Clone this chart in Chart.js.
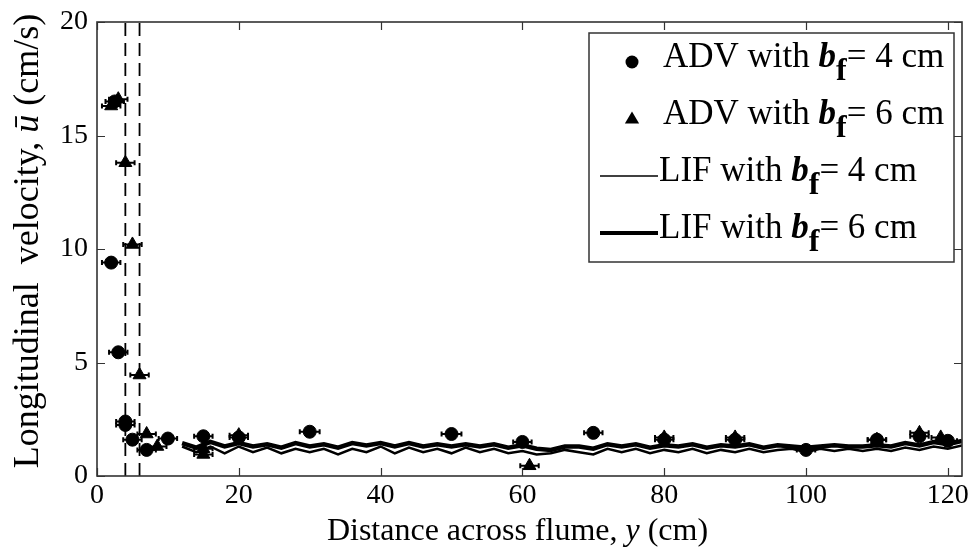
<!DOCTYPE html>
<html>
<head>
<meta charset="utf-8">
<script src="https://cdn.jsdelivr.net/npm/chart.js@4.4.1/dist/chart.umd.min.js"></script>
<style>
  html, body { margin: 0; padding: 0; background: #fff; }
</style>
</head>
<body>
<canvas id="chart" width="979" height="557"></canvas>
<script>
// ADV point measurements (y in cm, u in cm/s, horizontal error half-width in cm)
const advY4 = [2.5, 2, 3, 4, 4, 5, 7, 10, 15, 20, 30, 50, 60, 70, 80, 90, 100, 110, 116, 120];
const advU4 = [16.5, 9.4, 5.45, 2.4, 2.25, 1.6, 1.15, 1.65, 1.75, 1.7, 1.95, 1.85, 1.5, 1.9, 1.6, 1.6, 1.15, 1.6, 1.75, 1.55];
const advErr4 = [1.3, 1.3, 1.3, 1.3, 1.3, 1.3, 1.3, 1.3, 1.3, 1.3, 1.4, 1.4, 1.3, 1.3, 1.3, 1.3, 1.3, 1.3, 1.3, 1.3];

const advY6 = [2, 3, 4, 5, 6, 7, 8.5, 15, 15, 20, 61, 80, 90, 110, 116, 119];
const advU6 = [16.3, 16.6, 13.8, 10.2, 4.45, 1.85, 1.3, 1.2, 0.95, 1.8, 0.45, 1.7, 1.7, 1.6, 1.9, 1.7];
const advErr6 = [1.3, 1.3, 1.3, 1.3, 1.3, 1.3, 1.3, 1.3, 1.3, 1.3, 1.3, 1.3, 1.3, 1.3, 1.3, 1.3];

// LIF transects
const lifY = [12, 14, 16, 18, 20, 22, 24, 26, 28, 30, 32, 34, 36, 38, 40, 42, 44, 46, 48, 50,
  52, 54, 56, 58, 60, 62, 64, 66, 68, 70, 72, 74, 76, 78, 80, 82, 84, 86, 88, 90,
  92, 94, 96, 98, 100, 102, 104, 106, 108, 110, 112, 114, 116, 118, 120, 122];
const lifU4 = [1.3, 1.05, 1.3, 1.0, 1.3, 1.05, 1.25, 1.0, 1.2, 1.05, 1.2, 0.95, 1.2, 1.05, 1.3, 1.0, 1.25, 1.05, 1.2, 1.0,
  1.25, 1.05, 1.2, 1.0, 1.1, 0.95, 1.0, 1.15, 1.05, 0.95, 1.2, 1.05, 1.2, 1.0, 1.15, 1.05, 1.2, 1.0, 1.15, 1.05,
  1.2, 1.05, 1.15, 1.2, 1.05, 1.2, 1.1, 1.2, 1.1, 1.2, 1.1, 1.25, 1.15, 1.3, 1.2, 1.35];
const lifU6 = [1.45, 1.25, 1.5, 1.3, 1.45, 1.3, 1.4, 1.25, 1.45, 1.3, 1.4, 1.25, 1.45, 1.35, 1.45, 1.3, 1.45, 1.3, 1.4, 1.3,
  1.4, 1.3, 1.4, 1.25, 1.35, 1.2, 1.15, 1.3, 1.3, 1.2, 1.4, 1.3, 1.4, 1.25, 1.35, 1.3, 1.4, 1.25, 1.35, 1.3,
  1.4, 1.25, 1.35, 1.3, 1.25, 1.3, 1.35, 1.3, 1.3, 1.35, 1.3, 1.45, 1.35, 1.5, 1.4, 1.55];

// fringe widths b_f marked by dashed lines
const fringeEdges = [4, 6];

const xTicks = [0, 20, 40, 60, 80, 100, 120];
const yTicks = [0, 5, 10, 15, 20];
const xMax = 122;
const yMax = 20;

const SERIF = '"Liberation Serif", "Times New Roman", serif';

function pts(xs, ys) {
  return xs.map((v, i) => ({ x: v, y: ys[i] }));
}

function drawRuns(ctx, runs, x, y, align) {
  let w = 0;
  runs.forEach(r => { ctx.font = r.f; r.w = ctx.measureText(r.t).width; w += r.w; });
  let cx = align === 'center' ? x - w / 2 : x;
  runs.forEach(r => {
    ctx.font = r.f;
    ctx.fillText(r.t, cx, y + (r.dy || 0));
    cx += r.w;
  });
}

function bfRuns(prefix, width) {
  return [
    { t: prefix + ' with ', f: '35px ' + SERIF },
    { t: 'b', f: 'italic bold 35px ' + SERIF },
    { t: 'f', f: 'bold 32px ' + SERIF, dy: 14 },
    { t: '= ' + width + ' cm', f: '35px ' + SERIF }
  ];
}

// horizontal error bars behind the markers
const errorBars = {
  id: 'errorBars',
  beforeDatasetsDraw(chart) {
    const { ctx, scales: { x, y } } = chart;
    ctx.save();
    ctx.strokeStyle = '#000';
    ctx.lineWidth = 2;
    [[advY4, advU4, advErr4], [advY6, advU6, advErr6]].forEach(([xs, us, es]) => {
      xs.forEach((v, i) => {
        const py = y.getPixelForValue(us[i]);
        const x0 = x.getPixelForValue(v - es[i]);
        const x1 = x.getPixelForValue(v + es[i]);
        ctx.beginPath();
        ctx.moveTo(x0, py); ctx.lineTo(x1, py);
        ctx.moveTo(x0, py - 2.5); ctx.lineTo(x0, py + 2.5);
        ctx.moveTo(x1, py - 2.5); ctx.lineTo(x1, py + 2.5);
        ctx.stroke();
      });
    });
    ctx.restore();
  }
};

// axes box, inward ticks, labels, titles and legend
const frameAndText = {
  id: 'frameAndText',
  afterDraw(chart) {
    const { ctx, chartArea: a, scales: { x, y } } = chart;
    ctx.save();
    ctx.strokeStyle = '#333';
    ctx.lineWidth = 1.6;
    ctx.strokeRect(a.left, a.top, a.right - a.left, a.bottom - a.top);

    const tl = 8;
    ctx.beginPath();
    xTicks.forEach(v => {
      const px = Math.round(x.getPixelForValue(v)) + 0.5;
      ctx.moveTo(px, a.bottom); ctx.lineTo(px, a.bottom - tl);
      ctx.moveTo(px, a.top); ctx.lineTo(px, a.top + tl);
    });
    yTicks.forEach(v => {
      const py = Math.round(y.getPixelForValue(v)) + 0.5;
      ctx.moveTo(a.left, py); ctx.lineTo(a.left + tl, py);
      ctx.moveTo(a.right, py); ctx.lineTo(a.right - tl, py);
    });
    ctx.lineWidth = 1.2;
    ctx.stroke();

    ctx.fillStyle = '#000';
    ctx.font = '28px ' + SERIF;
    ctx.textAlign = 'center';
    ctx.textBaseline = 'top';
    xTicks.forEach(v => ctx.fillText(String(v), x.getPixelForValue(v), a.bottom + 6));
    ctx.textAlign = 'right';
    ctx.textBaseline = 'middle';
    yTicks.forEach(v => ctx.fillText(String(v), a.left - 9, y.getPixelForValue(v)));

    // axis titles
    ctx.textAlign = 'left';
    ctx.textBaseline = 'middle';
    drawRuns(ctx, [
      { t: 'Distance across flume, ', f: '32px ' + SERIF },
      { t: 'y', f: 'italic 32px ' + SERIF },
      { t: ' (cm)', f: '32px ' + SERIF }
    ], (a.left + a.right) / 2 - 12, 532, 'center');

    ctx.save();
    ctx.translate(29, 241);
    ctx.rotate(-Math.PI / 2);
    drawRuns(ctx, [
      { t: 'Longitudinal  velocity, ', f: '36px ' + SERIF },
      { t: 'ū', f: 'italic 36px ' + SERIF },
      { t: ' (cm/s)', f: '36px ' + SERIF }
    ], 0, 0, 'center');
    ctx.restore();

    // legend
    const lx = a.right - 373, ly = a.top + 11, lw = 365, lh = 229;
    ctx.fillStyle = '#fff';
    ctx.fillRect(lx, ly, lw, lh);
    ctx.strokeStyle = '#333';
    ctx.lineWidth = 1.5;
    ctx.strokeRect(lx, ly, lw, lh);

    const rows = [ly + 29, ly + 86, ly + 143, ly + 200];
    const mx = lx + 43;
    ctx.fillStyle = '#000';
    ctx.strokeStyle = '#000';
    // circle marker
    ctx.beginPath();
    ctx.arc(mx, rows[0], 6.5, 0, Math.PI * 2);
    ctx.fill();
    // triangle marker
    const r = 7.5;
    ctx.beginPath();
    ctx.moveTo(mx, rows[1] - r);
    ctx.lineTo(mx + r * 0.95, rows[1] + r * 0.6);
    ctx.lineTo(mx - r * 0.95, rows[1] + r * 0.6);
    ctx.closePath();
    ctx.fill();
    // line samples
    ctx.lineWidth = 1.6;
    ctx.beginPath(); ctx.moveTo(lx + 11, rows[2]); ctx.lineTo(lx + 69, rows[2]); ctx.stroke();
    ctx.lineWidth = 4;
    ctx.beginPath(); ctx.moveTo(lx + 11, rows[3]); ctx.lineTo(lx + 69, rows[3]); ctx.stroke();

    ctx.textAlign = 'left';
    ctx.textBaseline = 'middle';
    drawRuns(ctx, bfRuns('ADV', 4), lx + 74, rows[0] - 4, 'left');
    drawRuns(ctx, bfRuns('ADV', 6), lx + 74, rows[1] - 4, 'left');
    drawRuns(ctx, bfRuns('LIF', 4), lx + 70, rows[2] - 4, 'left');
    drawRuns(ctx, bfRuns('LIF', 6), lx + 70, rows[3] - 4, 'left');
    ctx.restore();
  }
};

const dashed = fringeEdges.map(v => ({
  type: 'line',
  data: [{ x: v, y: 0 }, { x: v, y: yMax }],
  borderColor: '#000',
  borderWidth: 1.8,
  borderDash: [13, 7],
  pointRadius: 0,
  order: 3
}));

new Chart(document.getElementById('chart'), {
  type: 'scatter',
  data: {
    datasets: [
      {
        label: 'ADV with bf = 4 cm',
        data: pts(advY4, advU4),
        pointStyle: 'circle',
        pointRadius: 6.5,
        backgroundColor: '#000',
        borderColor: '#000',
        order: 0
      },
      {
        label: 'ADV with bf = 6 cm',
        data: pts(advY6, advU6),
        pointStyle: 'triangle',
        pointRadius: 7.5,
        backgroundColor: '#000',
        borderColor: '#000',
        order: 0
      },
      {
        type: 'line',
        label: 'LIF with bf = 4 cm',
        data: pts(lifY, lifU4),
        borderColor: '#000',
        borderWidth: 2.5,
        pointRadius: 0,
        tension: 0,
        order: 2
      },
      {
        type: 'line',
        label: 'LIF with bf = 6 cm',
        data: pts(lifY, lifU6),
        borderColor: '#000',
        borderWidth: 4.5,
        pointRadius: 0,
        tension: 0,
        order: 1
      },
      ...dashed
    ]
  },
  options: {
    responsive: false,
    animation: false,
    layout: { padding: { top: 22, right: 17, left: 0, bottom: 0 } },
    plugins: { legend: { display: false }, tooltip: { enabled: false } },
    scales: {
      x: {
        type: 'linear', min: 0, max: xMax,
        ticks: { display: false },
        grid: { display: false },
        border: { display: false },
        afterFit: s => { s.height = 81; }
      },
      y: {
        type: 'linear', min: 0, max: yMax,
        ticks: { display: false },
        grid: { display: false },
        border: { display: false },
        afterFit: s => { s.width = 97; }
      }
    }
  },
  plugins: [errorBars, frameAndText]
});
</script>
</body>
</html>
